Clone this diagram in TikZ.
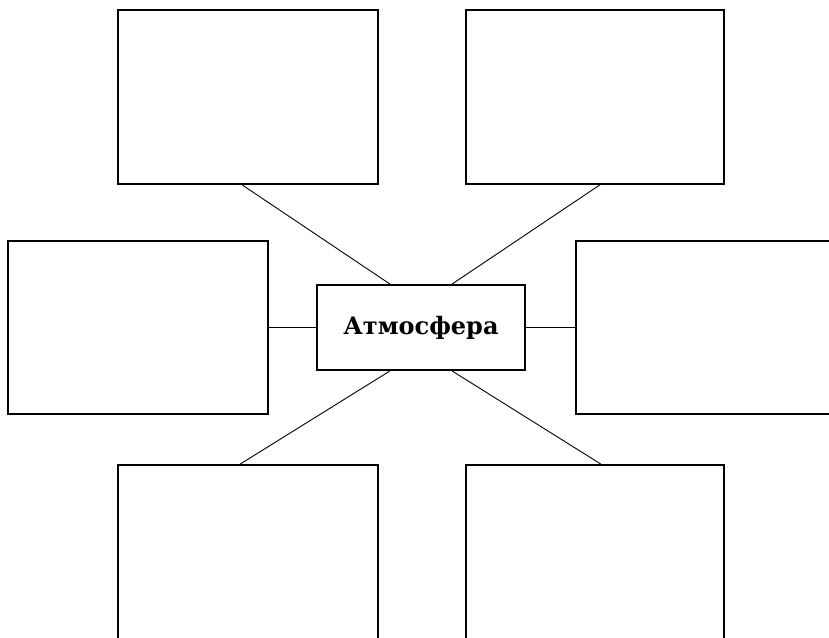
\documentclass[tikz,border=0pt]{standalone}
\usepackage{fontspec}
\setmainfont{DejaVu Serif}
\begin{document}
\begin{tikzpicture}[x=1pt,y=1pt,
  emptybox/.style={draw, line width=1.6pt, inner sep=0pt, minimum width=#1},
  hub/.style={draw, line width=1.8pt, inner sep=0pt, minimum width=208pt, minimum height=85pt, font=\bfseries\fontsize{24}{28}\selectfont},
  link/.style={line width=0.9pt},
  hlink/.style={line width=1.6pt}]
\useasboundingbox (0,0) rectangle (829,637);
\clip (0,0) rectangle (829,637);
\node[emptybox=260pt, minimum height=174pt] (tl) at (248,540) {};
\node[emptybox=258pt, minimum height=174pt] (tr) at (595,540) {};
\node[emptybox=260pt, minimum height=173pt] (ml) at (138,309.5) {};
\node[emptybox=264pt, minimum height=173pt] (mr) at (708,309.5) {};
\node[emptybox=260pt, minimum height=185pt] (bl) at (248,79.5) {};
\node[emptybox=258pt, minimum height=185pt] (br) at (595,79.5) {};
\node[hub] (c) at (421,309.5) {Атмосфера};
\draw[link] ([xshift=-6pt]tl.south) -- ([xshift=-31pt]c.north);
\draw[link] ([xshift=5pt]tr.south) -- ([xshift=31pt]c.north);
\draw[hlink] (ml.east) -- (c.west);
\draw[hlink] (c.east) -- (mr.west);
\draw[link] ([xshift=-31pt]c.south) -- ([xshift=-8pt]bl.north);
\draw[link] ([xshift=31pt]c.south) -- ([xshift=6pt]br.north);
\end{tikzpicture}
\end{document}
